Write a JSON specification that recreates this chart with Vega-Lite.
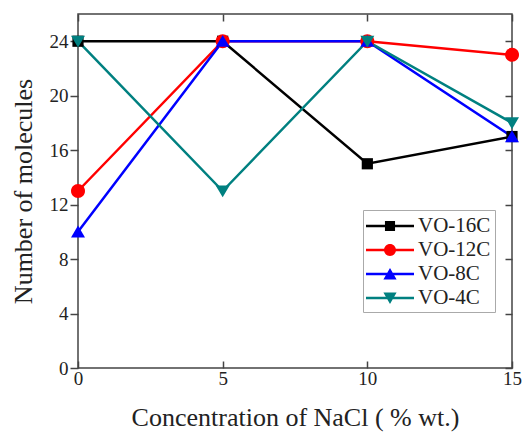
{
  "$schema": "https://vega.github.io/schema/vega-lite/v6.json",
  "width": 434,
  "height": 354,
  "autosize": "none",
  "padding": {"left": 78, "top": 14, "right": 10, "bottom": 65},
  "config": {
    "font": "Liberation Serif",
    "view": {"stroke": "#444", "strokeWidth": 1.5},
    "axis": {
      "grid": false,
      "domain": false,
      "tickColor": "#444",
      "tickWidth": 1.5,
      "labelFont": "Liberation Serif",
      "labelFontSize": 19,
      "labelColor": "#222",
      "titleFont": "Liberation Serif",
      "titleFontSize": 26,
      "titleFontWeight": "normal",
      "titleColor": "#222",
      "labelFlush": false
    },
    "legend": {
      "orient": "none",
      "legendX": 285,
      "legendY": 196,
      "title": null,
      "labelFont": "Liberation Serif",
      "labelFontSize": 21,
      "labelColor": "#222",
      "symbolSize": 576,
      "symbolOpacity": 1,
      "symbolStrokeWidth": 0,
      "symbolOffset": 11,
      "labelOffset": 16,
      "rowPadding": 2,
      "padding": 4,
      "strokeColor": "#aaaaaa",
      "fillColor": "#ffffff"
    }
  },
  "data": {
    "values": [
      {"nacl": 0, "molecules": 24, "series": "VO-16C"},
      {"nacl": 5, "molecules": 24, "series": "VO-16C"},
      {"nacl": 10, "molecules": 15, "series": "VO-16C"},
      {"nacl": 15, "molecules": 17, "series": "VO-16C"},
      {"nacl": 0, "molecules": 13, "series": "VO-12C"},
      {"nacl": 5, "molecules": 24, "series": "VO-12C"},
      {"nacl": 10, "molecules": 24, "series": "VO-12C"},
      {"nacl": 15, "molecules": 23, "series": "VO-12C"},
      {"nacl": 0, "molecules": 10, "series": "VO-8C"},
      {"nacl": 5, "molecules": 24, "series": "VO-8C"},
      {"nacl": 10, "molecules": 24, "series": "VO-8C"},
      {"nacl": 15, "molecules": 17, "series": "VO-8C"},
      {"nacl": 0, "molecules": 24, "series": "VO-4C"},
      {"nacl": 5, "molecules": 13, "series": "VO-4C"},
      {"nacl": 10, "molecules": 24, "series": "VO-4C"},
      {"nacl": 15, "molecules": 18, "series": "VO-4C"}
    ]
  },
  "layer": [
    {
      "mark": {"type": "line", "strokeWidth": 2.5},
      "encoding": {
        "x": {
          "field": "nacl", "type": "quantitative",
          "scale": {"domain": [0, 15], "nice": false},
          "axis": {
            "orient": "bottom",
            "values": [0, 5, 10, 15],
            "tickSize": -7,
            "labelPadding": 8,
            "title": "Concentration of NaCl ( % wt.)",
            "titlePadding": 16
          }
        },
        "y": {
          "field": "molecules", "type": "quantitative",
          "scale": {"domain": [0, 26], "nice": false},
          "axis": {
            "orient": "left",
            "values": [0, 4, 8, 12, 16, 20, 24],
            "tickSize": 8,
            "labelPadding": 2,
            "title": "Number of molecules",
            "titlePadding": 13
          }
        },
        "color": {
          "field": "series", "type": "nominal",
          "scale": {
            "domain": ["VO-16C", "VO-12C", "VO-8C", "VO-4C"],
            "range": ["#000000", "#ff0000", "#0000ff", "#008080"]
          },
          "legend": null
        }
      }
    },
    {
      "mark": {"type": "point", "filled": true, "opacity": 1, "size": 196},
      "encoding": {
        "x": {"field": "nacl", "type": "quantitative", "axis": null},
        "y": {"field": "molecules", "type": "quantitative", "axis": null},
        "color": {
          "field": "series", "type": "nominal",
          "scale": {
            "domain": ["VO-16C", "VO-12C", "VO-8C", "VO-4C"],
            "range": ["#000000", "#ff0000", "#0000ff", "#008080"]
          },
          "legend": null
        },
        "shape": {
          "field": "series", "type": "nominal",
          "scale": {
            "domain": ["VO-16C", "VO-12C", "VO-8C", "VO-4C"],
            "range": [
              "M-0.8,-0.8H0.8V0.8H-0.8Z",
              "M-1,0A1,1 0 1,1 1,0A1,1 0 1,1 -1,0Z",
              "M0,-0.9L1,0.8L-1,0.8Z",
              "M0,0.9L-1,-0.8L1,-0.8Z"
            ]
          },
          "legend": null
        }
      }
    },
    {
      "mark": {"type": "point", "filled": true, "opacity": 0},
      "encoding": {
        "x": {
          "field": "nacl", "type": "quantitative",
          "axis": {"orient": "top", "values": [0, 5, 10, 15], "tickSize": -7, "labels": false, "title": null}
        },
        "y": {
          "field": "molecules", "type": "quantitative",
          "axis": {"orient": "right", "values": [0, 4, 8, 12, 16, 20, 24], "tickSize": -7, "labels": false, "title": null}
        },
        "color": {
          "field": "series", "type": "nominal",
          "scale": {
            "domain": ["VO-16C", "VO-12C", "VO-8C", "VO-4C"],
            "range": ["#000000", "#ff0000", "#0000ff", "#008080"]
          },
          "legend": {"orient": "none", "legendX": 285, "legendY": 196, "title": null}
        },
        "shape": {
          "field": "series", "type": "nominal",
          "scale": {
            "domain": ["VO-16C", "VO-12C", "VO-8C", "VO-4C"],
            "range": [
              "M-2,-0.1H2V0.1H-2Z M-0.42,-0.42H0.42V0.42H-0.42Z",
              "M-2,-0.1H2V0.1H-2Z M-0.5,0A0.5,0.5 0 1,1 0.5,0A0.5,0.5 0 1,1 -0.5,0Z",
              "M-2,-0.1H2V0.1H-2Z M0,-0.5L0.55,0.45L-0.55,0.45Z",
              "M-2,-0.1H2V0.1H-2Z M0,0.5L-0.55,-0.45L0.55,-0.45Z"
            ]
          },
          "legend": {"orient": "none", "legendX": 285, "legendY": 196, "title": null}
        }
      }
    }
  ],
  "resolve": {
    "scale": {"shape": "independent", "color": "independent"},
    "axis": {"x": "independent", "y": "independent"}
  }
}
